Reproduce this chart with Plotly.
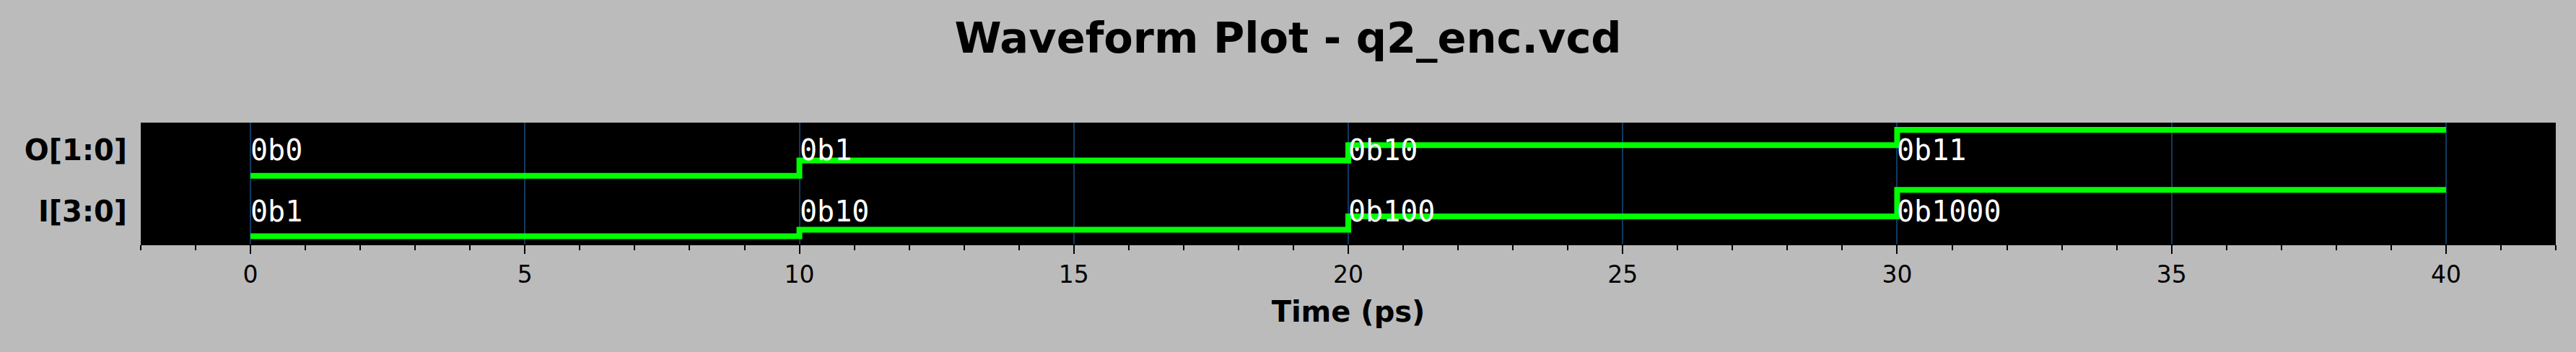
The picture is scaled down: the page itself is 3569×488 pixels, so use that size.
import plotly.graph_objects as go

# ---- data ----
signal_names = ["I[3:0]", "O[1:0]"]          # bottom to top
change_times = [0, 10, 20, 30]
end_time = 40
I_values = [1, 2, 4, 8]
O_values = [0, 1, 2, 3]
I_labels = ["0b1", "0b10", "0b100", "0b1000"]
O_labels = ["0b0", "0b1", "0b10", "0b11"]
x_ticks = [0, 5, 10, 15, 20, 25, 30, 35, 40]

# ---- layout constants (vertical placement of each row, in axis units) ----
ROW = {
    "I[3:0]": dict(base=1.2, span=73.6, label_y=45.5),
    "O[1:0]": dict(base=94.3, span=63.6, label_y=130.2),
}
Y_RANGE = [0, 168]

GREEN = "#00ff00"
BG = "#bbbbbb"
GRID = "#103a62"

series = {
    "I[3:0]": (I_values, I_labels),
    "O[1:0]": (O_values, O_labels),
}

fig = go.Figure()
annotations = []
for name in signal_names:
    vals, labs = series[name]
    r = ROW[name]
    vmax = max(vals) if max(vals) > 0 else 1
    xs = list(change_times) + [end_time]
    ys = [r["base"] + v / vmax * r["span"] for v in vals] + [r["base"] + vals[-1] / vmax * r["span"]]
    fig.add_trace(go.Scatter(
        x=xs, y=ys, mode="lines",
        line=dict(color=GREEN, width=8, shape="hv"),
        hoverinfo="skip", showlegend=False,
    ))
    for t, lab in zip(change_times, labs):
        annotations.append(dict(
            x=t, y=r["label_y"], xref="x", yref="y", text=lab, showarrow=False,
            xanchor="left", yanchor="middle", borderpad=0, xshift=-1,
            font=dict(family="DejaVu Sans Mono", size=40, color="white"),
        ))

fig.update_layout(
    width=3569, height=488,
    paper_bgcolor=BG, plot_bgcolor="black",
    margin=dict(l=195, r=28, t=170, b=150, autoexpand=False),
    title=dict(
        text="Waveform Plot - q2_enc.vcd", x=0.5, xref="container", xanchor="center",
        y=1 - 52 / 488, yref="container", yanchor="middle",
        font=dict(family="DejaVu Sans", size=59, color="black", weight="bold"),
    ),
    annotations=annotations,
)

fig.update_xaxes(
    range=[-2, 42], tickvals=x_ticks, ticktext=[str(v) for v in x_ticks],
    ticks="outside", ticklen=12, tickwidth=2, tickcolor="black",
    tickfont=dict(family="DejaVu Sans", size=33, color="black"),
    showgrid=True, gridcolor=GRID, gridwidth=2,
    showline=True, linecolor="black", linewidth=2,
    zeroline=False,
    minor=dict(dtick=1, tick0=0, ticks="outside", ticklen=7, tickwidth=2, tickcolor="black", showgrid=False),
    title=dict(text="Time (ps)", standoff=19,
               font=dict(family="DejaVu Sans", size=40, color="black", weight="bold")),
    automargin=False,
)
fig.update_yaxes(
    range=Y_RANGE, tickvals=[ROW[n]["label_y"] for n in signal_names], ticktext=signal_names,
    ticks="", showgrid=False, zeroline=False, showline=False,
    tickfont=dict(family="DejaVu Sans", size=40, color="black", weight="bold"),
    ticklabelstandoff=18, automargin=False,
)

fig.write_html(
    "out.html",
    config={"displayModeBar": False},
    post_script="document.body.style.margin='0';document.body.style.background='%s';" % BG,
)
